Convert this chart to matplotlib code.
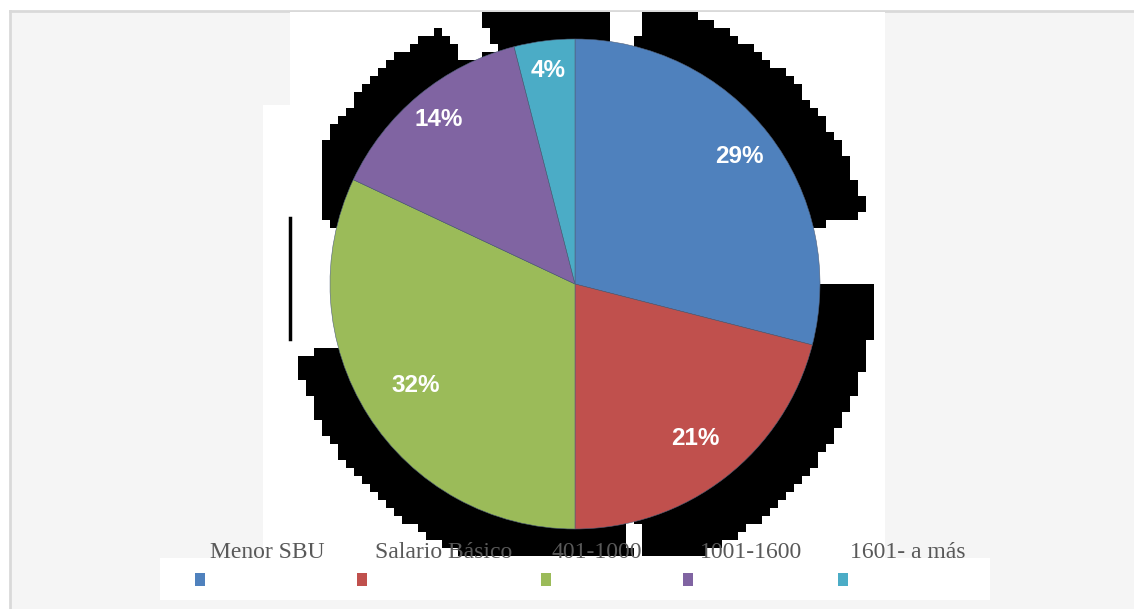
import numpy as np
import matplotlib
matplotlib.use("Agg")
import matplotlib.pyplot as plt
from matplotlib.patches import Rectangle

# Distribución por rango salarial
categorias = ["Menor SBU", "Salario Básico", "401-1000", "1001-1600", "1601- a más"]
porcentajes = [29, 21, 32, 14, 4]
colores = ["#4F81BD", "#C0504D", "#9BBB59", "#8064A2", "#4BACC6"]

# posición de cada etiqueta dentro de su sector (fracción del radio)
dist_etiquetas = [0.85, 0.80, 0.77, 0.87, 0.88]

W, H = 1134, 609
CX, CY, R = 575, 284, 245  # centro y radio del pastel, en píxeles

plt.rcParams["hatch.color"] = "#ebebeb"
plt.rcParams["hatch.linewidth"] = 0.6

fig = plt.figure(figsize=(W / 100, H / 100), dpi=100)
fig.patch.set_facecolor("white")

# capa de fondo en coordenadas de píxel
bg = fig.add_axes([0, 0, 1, 1])
bg.set_xlim(0, W)
bg.set_ylim(H, 0)
bg.axis("off")

bg.add_patch(Rectangle((10, 11), W - 10, H - 11, facecolor="#f5f5f5",
                       edgecolor="none", hatch="xxxx", zorder=0))
bg.plot([10, W], [11, 11], color="#d9d9d9", lw=2, zorder=1)
bg.plot([10, 10], [11, H], color="#d9d9d9", lw=2, zorder=1)

# zona blanca del gráfico y de la leyenda
bg.add_patch(Rectangle((290, 12), 595, 546, facecolor="white", edgecolor="none", zorder=2))
bg.add_patch(Rectangle((263, 105), 30, 453, facecolor="white", edgecolor="none", zorder=2))
bg.add_patch(Rectangle((160, 558), 830, 42, facecolor="white", edgecolor="none", zorder=2))

# sombra escalonada detrás del pastel
cell = 8
x0, y0 = 290, 12
nx, ny = 74, 68
sx, sy, sr = 581, 286, 294
gx = x0 + cell * (np.arange(nx) + 0.5)
gy = y0 + cell * (np.arange(ny) + 0.5)
XX, YY = np.meshgrid(gx, gy)
dx, dy = XX - sx, sy - YY
rr = np.hypot(dx, dy)
ang = np.degrees(np.arctan2(dy, dx)) % 360
sombra = rr <= sr
for a0, a1, rmin in [(110, 118, 250), (77, 84, 0), (1, 14, 0),
                     (166, 194, 0), (280.5, 283.5, 0)]:
    sombra &= ~((ang >= a0) & (ang <= a1) & (rr >= rmin))
sombra &= ~((XX < 322) & (YY < 220))
img = np.zeros((ny, nx, 4))
img[..., 3] = sombra.astype(float)
bg.imshow(img, extent=(x0, x0 + nx * cell, y0 + ny * cell, y0),
          interpolation="nearest", zorder=3, aspect="auto")
bg.plot([290, 290], [218, 339], color="black", lw=2.5, zorder=3)
bg.set_xlim(0, W)
bg.set_ylim(H, 0)

# pastel
ax = fig.add_axes([(CX - R) / W, (H - CY - R) / H, 2 * R / W, 2 * R / H])
wedges, _, autotexts = ax.pie(
    porcentajes, colors=colores, startangle=90, counterclock=False,
    autopct="%1.0f%%", radius=1,
    wedgeprops=dict(edgecolor="#50607a", linewidth=0.4),
    textprops=dict(color="white", fontsize=17.5, fontweight="bold",
                   family="Liberation Sans"))
for w, t, d in zip(wedges, autotexts, dist_etiquetas):
    mid = np.radians((w.theta1 + w.theta2) / 2)
    t.set_position((d * np.cos(mid), d * np.sin(mid)))
    t.set_ha("center")
    t.set_va("center")
ax.set_xlim(-1, 1)
ax.set_ylim(-1, 1)
ax.set_aspect("equal")
ax.axis("off")

# leyenda: texto arriba y cuadro de color abajo
texto_x = [210, 375, 552, 700, 850]
cuadro_x = [195, 357, 541, 683, 838]
for cat, col, tx, qx in zip(categorias, colores, texto_x, cuadro_x):
    fig.text(tx / W, 1 - 553 / H, cat, fontsize=17, color="#595959",
             family="Liberation Serif", ha="left", va="center")
    bg.add_patch(Rectangle((qx, 573), 10, 13, facecolor=col, edgecolor="none", zorder=4))

fig.savefig("out.png", dpi=100)
